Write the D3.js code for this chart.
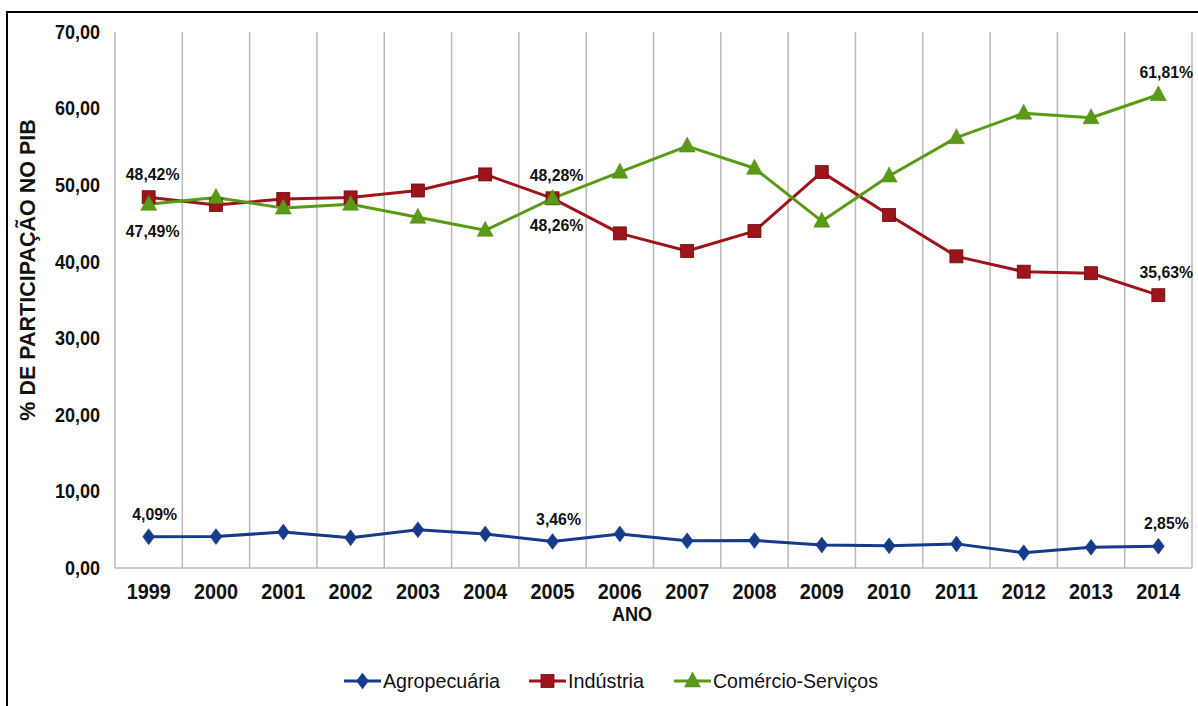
<!DOCTYPE html>
<html><head><meta charset="utf-8">
<script src="https://cdn.jsdelivr.net/npm/d3@7"></script>
<style>
body{margin:0;background:#fff;}
svg text{font-family:"Liberation Sans",Arial,sans-serif;}
</style></head><body>
<svg id="c" width="1198" height="706"></svg>
<script>
const years = ["1999","2000","2001","2002","2003","2004","2005","2006","2007","2008","2009","2010","2011","2012","2013","2014"];
const agro = [4.09,4.10,4.70,3.95,5.00,4.45,3.46,4.45,3.55,3.60,3.00,2.90,3.15,2.00,2.70,2.85];
const industria = [48.42,47.40,48.20,48.40,49.30,51.40,48.28,43.70,41.40,44.00,51.70,46.10,40.70,38.70,38.50,35.63];
const comercio = [47.49,48.40,47.00,47.50,45.80,44.10,48.26,51.70,55.10,52.20,45.30,51.20,56.20,59.40,58.80,61.81];
const yTicks = [0,10,20,30,40,50,60,70];
const seriesNames = ["Agropecuária","Indústria","Comércio-Serviços"];
const colors = ["#173a8a","#9e141b","#5a9a16"];
const labels = [
  {s:0,i:0,pos:"above"},{s:0,i:6,pos:"above"},{s:0,i:15,pos:"above"},
  {s:1,i:0,pos:"above"},{s:1,i:6,pos:"above"},{s:1,i:15,pos:"above"},
  {s:2,i:0,pos:"below"},{s:2,i:6,pos:"below"},{s:2,i:15,pos:"above"}
];
const series = [agro, industria, comercio];

const svg = d3.select("#c");
const m = {l:115, r:1192, t:32, b:568};
const x = d3.scaleBand().domain(years).range([m.l, m.r]);
const y = d3.scaleLinear().domain([0,70]).range([m.b, m.t]);
const fmt = v => d3.format(".2f")(v).replace(".", ",");
// condense text horizontally (narrow-font look)
const condense = (sel, k) => sel.each(function(){
  const w = this.getComputedTextLength();
  d3.select(this).attr("textLength", w*k).attr("lengthAdjust","spacingAndGlyphs");
});

svg.append("rect").attr("x",7).attr("y",12).attr("width",1200).attr("height",710)
  .attr("fill","none").attr("stroke","#000").attr("stroke-width",2);

const edges = years.map(d => x(d)).concat([m.r]);
svg.append("g").selectAll("line").data(edges).join("line")
  .attr("x1",d=>d).attr("x2",d=>d).attr("y1",m.t).attr("y2",m.b)
  .attr("stroke","#b9b9b9").attr("stroke-width",1.5);
svg.append("line").attr("x1",m.l).attr("x2",m.r).attr("y1",m.b).attr("y2",m.b)
  .attr("stroke","#b9b9b9").attr("stroke-width",1.5);

const ya = svg.append("g").attr("transform",`translate(${m.l},0)`)
  .call(d3.axisLeft(y).tickValues(yTicks).tickSize(0).tickPadding(15).tickFormat(fmt));
ya.select(".domain").remove();
ya.selectAll("text").attr("font-size",20).attr("font-weight","bold").attr("fill","#111").call(condense,0.9);

const xa = svg.append("g").attr("transform",`translate(0,${m.b})`)
  .call(d3.axisBottom(x).tickSize(0).tickPadding(15));
xa.select(".domain").remove();
xa.selectAll("text").attr("font-size",22).attr("font-weight","bold").attr("fill","#111").call(condense,0.9);

svg.append("text").attr("x",632).attr("y",621).attr("text-anchor","middle")
  .attr("font-size",21).attr("font-weight","bold").attr("fill","#111").text("ANO").call(condense,0.86);

svg.append("text").attr("transform","translate(35,270) rotate(-90)").attr("text-anchor","middle")
  .attr("font-size",21.5).attr("font-weight","bold").attr("fill","#111").text("% DE PARTICIPAÇÃO NO PIB");

const cx = d => x(d) + x.bandwidth()/2;
const line = d3.line().x((v,i)=>cx(years[i])).y(v=>y(v));

function marker(g, s, px, py){
  if(s===0){
    g.append("path").attr("d",`M${px},${py-8}L${px+6},${py}L${px},${py+8}L${px-6},${py}Z`)
      .attr("fill",colors[0]).attr("stroke",colors[0]).attr("stroke-width",0.5);
  } else if(s===1){
    g.append("rect").attr("x",px-6.5).attr("y",py-6.5).attr("width",13).attr("height",13)
      .attr("fill",colors[1]).attr("stroke","#6a0c10").attr("stroke-width",0.8);
  } else {
    g.append("path").attr("d",`M${px},${py-9}L${px+8},${py+6}L${px-8},${py+6}Z`)
      .attr("fill",colors[2]).attr("stroke","#4a8210").attr("stroke-width",0.5);
  }
}

series.forEach((vals,s)=>{
  svg.append("path").datum(vals).attr("d",line).attr("fill","none")
    .attr("stroke",colors[s]).attr("stroke-width",3).attr("stroke-linejoin","round");
});
series.forEach((vals,s)=>{
  const g = svg.append("g");
  vals.forEach((v,i)=>marker(g,s,cx(years[i]),y(v)));
});

labels.forEach(l=>{
  const v = series[l.s][l.i];
  const px = cx(years[l.i]) + (l.i===15 ? 8 : (l.s===0 ? 6 : 4));
  const py = l.pos==="above" ? y(v) - 17 : y(v) + 33;
  svg.append("text").attr("x",px).attr("y",py).attr("text-anchor","middle")
    .attr("font-size",17).attr("font-weight","bold").attr("fill","#111").text(fmt(v)+"%")
    .call(condense,0.93);
});

const legX = [344, 529, 674];
const legW = [117, 76, 165];
seriesNames.forEach((n,s)=>{
  const g = svg.append("g");
  g.append("line").attr("x1",legX[s]).attr("x2",legX[s]+37).attr("y1",681).attr("y2",681)
    .attr("stroke",colors[s]).attr("stroke-width",3);
  marker(g,s,legX[s]+18.5,681);
  g.append("text").attr("x",legX[s]+39).attr("y",688).attr("font-size",21)
    .attr("fill","#111").text(n).attr("textLength",legW[s]).attr("lengthAdjust","spacingAndGlyphs");
});
</script>
</body></html>
